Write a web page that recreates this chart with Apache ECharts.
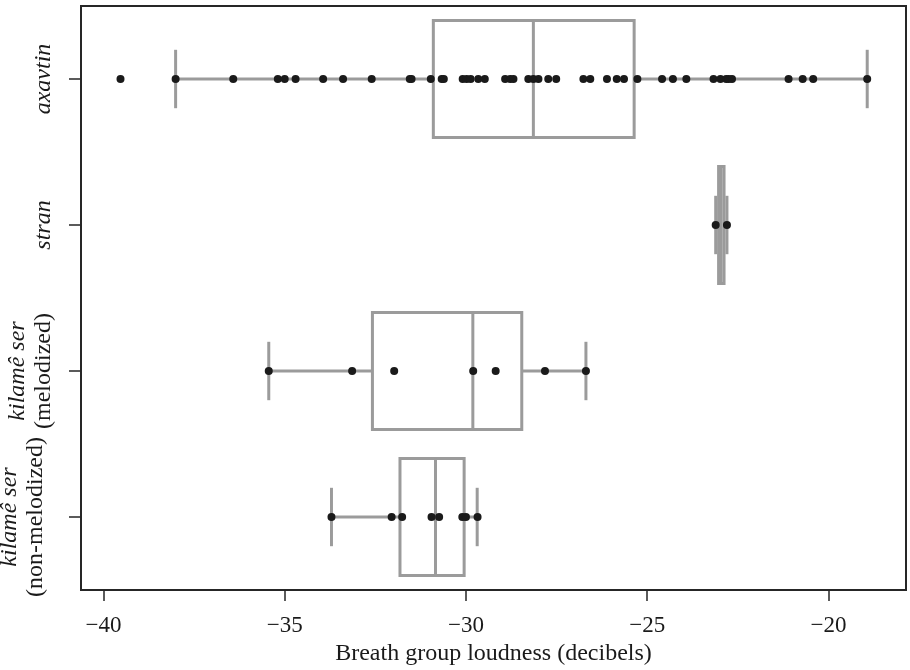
<!DOCTYPE html>
<html>
<head>
<meta charset="utf-8">
<title>Breath group loudness</title>
<script src="https://cdn.jsdelivr.net/npm/echarts@6/dist/echarts.min.js"></script>
<style>
    html, body { margin: 0; padding: 0; background: #fff; }
    #chart { width: 910px; height: 670px; }
</style>
</head>
<body>
<div id="chart"></div>
<script>
// categories, top to bottom
const categories = ['axavtin', 'stran', 'kilamê ser\n(melodized)', 'kilamê ser\n(non-melodized)']

// breath group loudness (dB)
const axavtinValues = [
    -39.53, -38.01, -36.42, -35.19, -35.00, -34.70, -33.94, -33.39, -32.60, -31.55,
    -31.50, -30.97, -30.67, -30.61, -30.09, -29.98, -29.87, -29.66, -29.48, -28.92,
    -28.78, -28.69, -28.28, -28.14, -28.00, -27.73, -27.51, -26.76, -26.57, -26.11,
    -25.84, -25.64, -25.27, -24.59, -24.29, -23.92, -23.17, -22.98, -22.82, -22.75,
    -22.66, -21.10, -20.71, -20.42, -18.93,
]
const stranValues = [-23.11, -22.80]
const melodizedValues = [-35.44, -33.14, -31.98, -29.80, -29.18, -27.82, -26.69]
const nonMelodizedValues = [-33.71, -32.05, -31.76, -30.95, -30.74, -30.10, -30.00, -29.68]

// box stats: [lower whisker, q1, median, q3, upper whisker]
const axavtinBox = [-38.01, -30.90, -28.14, -25.36, -18.93]
const stranBox = [-23.11, -23.03, -22.96, -22.88, -22.80]
const melodizedBox = [-35.44, -32.58, -29.81, -28.46, -26.69]
const nonMelodizedBox = [-33.71, -31.82, -30.84, -30.05, -29.69]

const xTicks = [-40, -35, -30, -25, -20]
const xMin = -40.62
const xMax = -17.86

const boxColor = '#9b9b9b'
const inkColor = '#1a1a1a'
const serif = '"Liberation Serif", "DejaVu Serif", serif'

const groups = [axavtinValues, stranValues, melodizedValues, nonMelodizedValues]
const boxes = [axavtinBox, stranBox, melodizedBox, nonMelodizedBox]

const boxData = boxes.map((b, i) => [i].concat(b))
const pointData = []
groups.forEach((vals, i) => {
    vals.forEach(v => pointData.push([v, i]))
})

function renderBox(params, api) {
    const cat = api.value(0)
    const y = api.coord([xMin, cat])[1]
    const band = api.size([0, 1])[1]
    const half = band * 0.4
    const cap = band * 0.2
    const px = [1, 2, 3, 4, 5].map(d => api.coord([api.value(d), cat])[0])
    const lineStyle = { stroke: boxColor, lineWidth: 3 }
    return {
        type: 'group',
        children: [
            { type: 'line', shape: { x1: px[0], y1: y, x2: px[1], y2: y }, style: lineStyle },
            { type: 'line', shape: { x1: px[3], y1: y, x2: px[4], y2: y }, style: lineStyle },
            { type: 'line', shape: { x1: px[0], y1: y - cap, x2: px[0], y2: y + cap }, style: lineStyle },
            { type: 'line', shape: { x1: px[4], y1: y - cap, x2: px[4], y2: y + cap }, style: lineStyle },
            {
                type: 'rect',
                shape: { x: px[1], y: y - half, width: px[3] - px[1], height: half * 2 },
                style: { stroke: boxColor, lineWidth: 3, fill: '#fff' },
            },
            { type: 'line', shape: { x1: px[2], y1: y - half, x2: px[2], y2: y + half }, style: lineStyle },
        ],
    }
}

const option = {
    animation: false,
    grid: {
        left: 81,
        right: 4,
        top: 6,
        bottom: 80,
        outerBoundsMode: 'none',
        containLabel: false,
        show: true,
        borderColor: '#262626',
        borderWidth: 2,
        backgroundColor: '#fff',
    },
    xAxis: {
        type: 'value',
        min: xMin,
        max: xMax,
        name: 'Breath group loudness (decibels)',
        nameLocation: 'middle',
        nameGap: 50,
        nameTextStyle: {
            fontFamily: serif,
            fontSize: 24,
            color: inkColor,
        },
        axisLine: { show: false },
        splitLine: { show: false },
        axisTick: {
            show: true,
            length: 11,
            customValues: xTicks,
            lineStyle: { color: '#262626', width: 1.5 },
        },
        axisLabel: {
            customValues: xTicks,
            margin: 24,
            fontFamily: serif,
            fontSize: 23,
            color: inkColor,
            formatter: v => String(v).replace('-', '\u2212'),
        },
    },
    yAxis: {
        type: 'category',
        data: categories,
        inverse: true,
        axisLine: { show: false },
        splitLine: { show: false },
        axisTick: {
            show: true,
            alignWithLabel: true,
            length: 12,
            lineStyle: { color: '#262626', width: 1.5 },
        },
        axisLabel: {
            rotate: 90,
            margin: 24,
            color: inkColor,
            formatter: function (value, index) {
                let text = value.split('\n')
                    .map((line, i) => (i === 0 ? '{it|' + line + '}' : '{rm|' + line + '}'))
                    .join('\n')
                // the last label sits a little further from the axis in the original
                if (index === categories.length - 1) text += '\n{gap| }'
                return text
            },
            rich: {
                it: { fontFamily: serif, fontSize: 24, fontStyle: 'italic', lineHeight: 26, color: inkColor },
                rm: { fontFamily: serif, fontSize: 24, lineHeight: 26, color: inkColor },
                gap: { fontSize: 2, lineHeight: 8 },
            },
        },
    },
    series: [
        {
            name: 'box',
            type: 'custom',
            renderItem: renderBox,
            encode: { x: [1, 2, 3, 4, 5], y: 0 },
            data: boxData,
            z: 2,
        },
        {
            name: 'points',
            type: 'scatter',
            symbolSize: 8,
            itemStyle: { color: inkColor, opacity: 1 },
            data: pointData,
            z: 3,
        },
    ],
}

const chart = echarts.init(document.getElementById('chart'))
chart.setOption(option)
</script>
</body>
</html>
